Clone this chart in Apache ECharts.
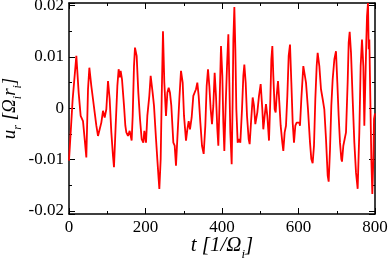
<!DOCTYPE html>
<html>
<head>
<meta charset="utf-8">
<script src="https://cdn.jsdelivr.net/npm/echarts@6/dist/echarts.min.js"></script>
<style>html,body{margin:0;padding:0;background:#fff}#c{width:390px;height:261px}</style>
</head>
<body>
<div id="c"></div>
<script>
var xTicks = [0, 200, 400, 600, 800];
var yTicks = [-0.02, -0.01, 0, 0.01, 0.02];
var yRange = [-0.0206, 0.0205];
var times = [
0, 9.6, 13.1, 19.2, 25.3, 30.5, 36.6, 41, 45.3, 49.7,
53.2, 58.4, 62.7, 67.1, 71.5, 75.8, 80.2, 84.5, 88.9, 93.3,
97.6, 102, 106.3, 110.7, 115, 117.6, 122, 126.4, 129.8, 132.5,
135, 138.6, 143.8, 147.3, 149.9, 154.2, 158.6, 163.8, 166.5, 169.9,
172.5, 176.9, 181.3, 185.6, 190, 194.3, 197, 201.3, 204.8, 210,
213.5, 218.7, 222.2, 227.5, 230.9, 234.4, 236.2, 239.7, 242.3, 245.7,
249.2, 253.6, 257.1, 260.6, 264, 267.5, 272.8, 276.3, 279.7, 283.2,
288.5, 292.8, 297.2, 300.7, 305.9, 309.4, 312.9, 316.3, 320.7, 325,
328.5, 332, 335.5, 339, 343.4, 347.7, 352.1, 356.4, 359.9, 363.4,
366.9, 370.4, 373.9, 377.3, 380.8, 384.3, 387.8, 390.4, 393.9, 397.4,
400.9, 403.5, 406.1, 409.6, 413.1, 416.6, 419.2, 421.8, 425.3, 427.9,
429.7, 432.3, 434.9, 437.5, 441, 444.4, 447.9, 452.3, 455.8, 458.4,
461.9, 465.4, 469.7, 472.3, 475.8, 480.2, 483.6, 487.1, 492.4, 496.7,
501.1, 505.4, 508, 511.5, 515, 518.5, 522.9, 526.4, 529, 531.6,
534.2, 537.7, 540.3, 542.9, 546.4, 549.9, 553.4, 557.7, 560.3, 563.8,
567.3, 570.8, 574.3, 577.8, 581.3, 584.8, 588.2, 591.7, 595.2, 598.7,
602.2, 603.9, 607.4, 612.6, 615.3, 619.6, 624.8, 630.1, 633.5, 637,
640.5, 644, 647.5, 650.1, 654.5, 658.8, 663.2, 667.5, 671.9, 676.3,
678.9, 682.4, 685.8, 689.3, 693.7, 698, 701.5, 705, 708.5, 712,
713.7, 717.2, 720.7, 724.2, 728.5, 731.2, 733.8, 737.3, 741.6, 746,
750.3, 754.7, 759, 762.5, 766, 769.5, 772.1, 774.7, 777.4, 779.1,
781.7, 783.5, 785.2, 787.8, 790.4, 793, 795.7, 797.4, 800
];
var ur = [
-0.0102, 0.0018, 0.0018, 0.0102, 0.0030, -0.0015, -0.0025, -0.0060, -0.0096, 0.0037,
0.0079, 0.0043, 0.0018, -0.0008, -0.0034, -0.0054, -0.0041, -0.0028, -0.0005, -0.0018,
-0.0002, 0.0053, 0.0018, -0.0047, -0.0093, -0.0115, -0.0034, 0.0043, 0.0076, 0.0060,
0.0073, 0.0056, 0.0005, -0.0034, -0.0047, -0.0054, -0.0044, -0.0063, -0.0015, 0.0082,
0.0118, 0.0102, 0.0030, -0.0021, -0.0060, -0.0067, -0.0044, -0.0067, -0.0015, 0.0024,
0.0063, 0.0030, 0.0005, -0.0060, -0.0099, -0.0138, -0.0157, -0.0099, 0.0018, 0.0150,
0.0050, -0.0015, 0.0030, 0.0040, 0.0030, 0.0005, -0.0067, -0.0073, -0.0112, -0.0060,
0.0018, 0.0073, 0.0050, -0.0015, -0.0063, -0.0041, -0.0025, -0.0041, -0.0018, 0.0024,
0.0027, 0.0037, 0.0050, 0.0024, -0.0028, -0.0073, -0.0089, -0.0034, 0.0043, 0.0076,
0.0043, -0.0002, -0.0031, 0.0005, 0.0069, 0.0024, -0.0041, -0.0073, 0.0018, 0.0121,
0.0063, -0.0028, -0.0083, 0.0005, 0.0082, 0.0144, 0.0050, -0.0047, -0.0109, 0.0018,
0.0134, 0.0197, 0.0115, -0.0002, -0.0067, -0.0060, -0.0067, -0.0002, 0.0063, 0.0085,
0.0050, -0.0015, -0.0060, -0.0070, -0.0028, 0.0021, 0.0005, -0.0031, -0.0008, 0.0024,
0.0047, -0.0002, -0.0041, -0.0015, 0.0008, -0.0015, -0.0063, 0.0018, 0.0095, 0.0121,
0.0063, -0.0002, -0.0008, 0.0024, 0.0053, 0.0011, -0.0034, -0.0067, -0.0083, -0.0047,
-0.0034, 0.0024, 0.0102, 0.0124, 0.0050, -0.0028, -0.0067, -0.0034, -0.0028, -0.0025,
-0.0028, -0.0034, 0.0018, 0.0082, 0.0085, 0.0050, -0.0002, -0.0067, -0.0099, -0.0107,
-0.0073, 0.0018, 0.0082, 0.0108, 0.0082, 0.0037, 0.0018, -0.0002, -0.0060, -0.0131,
-0.0143, -0.0080, 0.0005, 0.0056, 0.0095, 0.0111, 0.0050, -0.0015, -0.0067, -0.0099,
-0.0104, -0.0073, -0.0060, -0.0047, 0.0050, 0.0128, 0.0149, 0.0108, 0.0018, -0.0067,
-0.0125, -0.0157, -0.0047, 0.0082, 0.0134, 0.0082, -0.0034, 0.0050, 0.0134, 0.0179,
0.0205, 0.0115, 0.0134, 0.0018, -0.0099, -0.0167, -0.0099, -0.0021, -0.0010
];

var FONT = '"Liberation Serif", "DejaVu Serif", serif';
var data = times.map(function (t, i) { return [t, ur[i]]; });

function richFor(size, sub) {
  return {
    m: { fontFamily: FONT, fontSize: size, fontStyle: 'italic', color: '#000', lineHeight: size + 4 },
    s: { fontFamily: FONT, fontSize: sub, fontStyle: 'italic', color: '#000', lineHeight: size + 4, verticalAlign: 'bottom', padding: [0, 0, -3, 0] }
  };
}

function yLabel(v) {
  for (var i = 0; i < yTicks.length; i++) {
    if (Math.abs(v - yTicks[i]) < 1e-9) return String(yTicks[i]);
  }
  return '';
}

function axisBase(extra) {
  var base = {
    type: 'value',
    axisLine: { show: true, onZero: false, lineStyle: { color: '#000', width: 1.5 } },
    axisTick: { show: true, inside: true, length: 6, lineStyle: { color: '#000', width: 1 } },
    minorTick: { show: true, splitNumber: 2, length: 3, lineStyle: { color: '#000', width: 1 } },
    splitLine: { show: false },
    minorSplitLine: { show: false }
  };
  for (var k in extra) base[k] = extra[k];
  return base;
}

var chart = echarts.init(document.getElementById('c'), null, { renderer: 'canvas' });
chart.setOption({
  animation: false,
  backgroundColor: '#fff',
  grid: { left: 69, right: 15, top: 3, bottom: 47, containLabel: false, outerBoundsMode: 'none' },
  xAxis: [
    axisBase({
      position: 'bottom',
      min: xTicks[0], max: xTicks[xTicks.length - 1], interval: xTicks[1] - xTicks[0],
      axisLabel: { show: true, margin: 5, fontFamily: FONT, fontSize: 17, color: '#000' },
      name: '{m|t [1/Ω}{s|i}{m|]}',
      nameLocation: 'middle', nameGap: 19, nameMoveOverlap: false,
      nameTextStyle: { rich: richFor(21, 13) }
    }),
    axisBase({
      position: 'top',
      min: xTicks[0], max: xTicks[xTicks.length - 1], interval: xTicks[1] - xTicks[0],
      axisLabel: { show: false }
    })
  ],
  yAxis: [
    axisBase({
      position: 'left',
      min: yRange[0], max: yRange[1], splitNumber: 4,
      axisLabel: { show: true, margin: 5, fontFamily: FONT, fontSize: 17, color: '#000',
        showMinLabel: false, showMaxLabel: false, formatter: yLabel },
      name: '{m|u}{s|r}{m| [Ω}{s|i}{m|r}{s|i}{m|]}',
      nameLocation: 'middle', nameGap: 48, nameRotate: 90, nameMoveOverlap: false,
      nameTextStyle: { rich: richFor(19, 12) }
    }),
    axisBase({
      position: 'right',
      min: yRange[0], max: yRange[1], splitNumber: 4,
      axisLabel: { show: false }
    })
  ],
  series: [{
    type: 'line',
    data: data,
    showSymbol: false,
    symbol: 'none',
    clip: true,
    lineStyle: { color: '#ff0000', width: 1.8 },
    itemStyle: { color: '#ff0000' }
  }]
});
</script>
</body>
</html>
